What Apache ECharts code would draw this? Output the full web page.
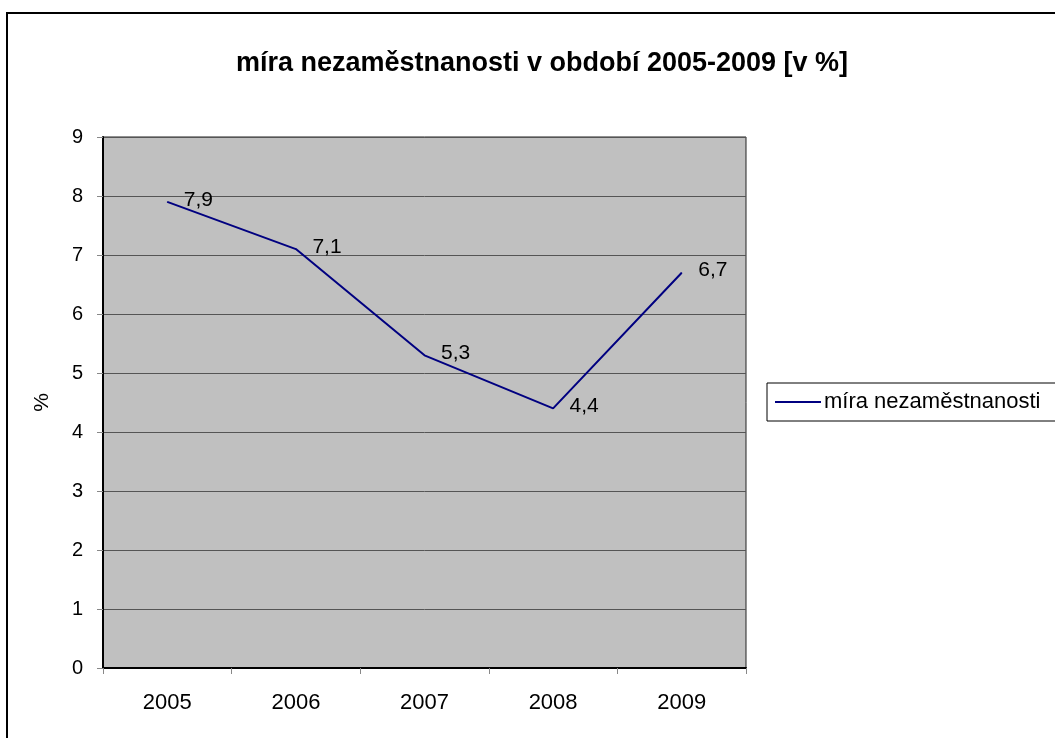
<!DOCTYPE html>
<html>
<head>
<meta charset="utf-8">
<script src="https://cdn.jsdelivr.net/npm/echarts@6/dist/echarts.min.js"></script>
<style>
  html, body { margin: 0; padding: 0; background: #fff; }
  #frame { position: absolute; left: 6px; top: 12px; width: 1100px; height: 800px;
           border-left: 2px solid #000; border-top: 2px solid #000; box-sizing: border-box; }
  #chart { position: absolute; left: 0; top: 0; width: 1055px; height: 738px; }
</style>
</head>
<body>
<div id="frame"></div>
<div id="chart"></div>
<script>
const titleText = 'míra nezaměstnanosti v období 2005-2009 [v %]';
const seriesName = 'míra nezaměstnanosti';
const categories = ['2005', '2006', '2007', '2008', '2009'];
const values = [7.9, 7.1, 5.3, 4.4, 6.7];
const yMin = 0, yMax = 9, yStep = 1;

const FONT = '"Liberation Sans", Arial, sans-serif';
const chart = echarts.init(document.getElementById('chart'), null, { renderer: 'canvas' });
chart.setOption({
  backgroundColor: 'transparent',
  animation: false,
  title: {
    text: titleText,
    left: 537, top: 45, textAlign: 'center',
    textStyle: { fontFamily: FONT, fontWeight: 'bold', fontSize: 27, color: '#000' }
  },
  legend: {
    left: 767, top: 383,
    orient: 'vertical',
    padding: [8, 60, 8, 8],
    borderColor: '#000', borderWidth: 1,
    icon: 'rect', itemWidth: 46, itemHeight: 2, itemGap: 0,
    textStyle: { fontFamily: FONT, fontSize: 22, color: '#000', padding: [0, 0, 0, -2] },
    data: [seriesName]
  },
  grid: {
    left: 103, top: 137, right: 309, bottom: 70,
    show: true, backgroundColor: '#c0c0c0', borderColor: '#222', borderWidth: 1
  },
  xAxis: {
    type: 'category', data: categories, boundaryGap: true,
    axisLine: { lineStyle: { color: '#000', width: 2 } },
    axisTick: { show: true, alignWithLabel: false, length: 6, lineStyle: { color: '#888' } },
    axisLabel: { fontFamily: FONT, fontSize: 22, color: '#000', margin: 24 },
    splitLine: { show: false }
  },
  yAxis: {
    type: 'value', min: yMin, max: yMax, interval: yStep,
    name: '%', nameLocation: 'middle', nameGap: 50, nameRotate: 90,
    nameTextStyle: { fontFamily: FONT, fontSize: 21, color: '#000' },
    axisLine: { show: true, lineStyle: { color: '#000', width: 2 } },
    axisTick: { show: true, length: 6, lineStyle: { color: '#888' } },
    axisLabel: { fontFamily: FONT, fontSize: 20, color: '#000', margin: 20 },
    splitLine: { show: true, lineStyle: { color: '#555', width: 1 } }
  },
  series: [{
    name: seriesName,
    type: 'line',
    data: values,
    symbol: 'circle', symbolSize: 1,
    itemStyle: { color: '#000080' },
    lineStyle: { color: '#000080', width: 2 },
    label: {
      show: true, position: 'right', distance: 16, offset: [0, -2],
      fontFamily: FONT, fontSize: 21, color: '#000',
      formatter: p => String(p.value).replace('.', ',')
    }
  }]
});
</script>
</body>
</html>
